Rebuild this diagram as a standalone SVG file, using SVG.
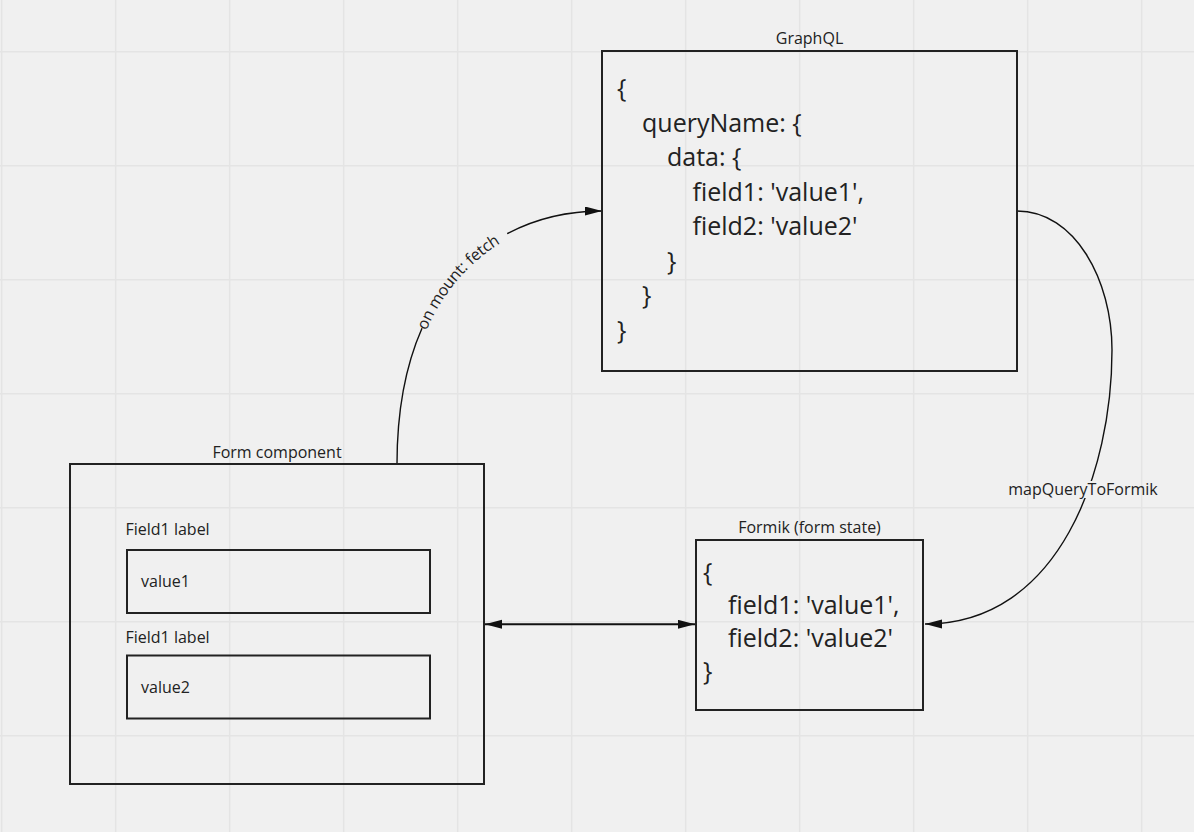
<svg xmlns="http://www.w3.org/2000/svg" width="1194" height="832" viewBox="0 0 1194 832">
<defs>
<style>
.grid{stroke:#e4e4e4;stroke-width:1.5;fill:none}
.box{fill:none;stroke:#222;stroke-width:2}
.lbl{font-family:"Open Sans","Liberation Sans",sans-serif;font-size:16px;fill:#222}
.code{font-family:"Open Sans","Liberation Sans",sans-serif;font-size:25px;fill:#222}
.curve{fill:none;stroke:#111;stroke-width:1.4}
.line{fill:none;stroke:#111;stroke-width:2}
</style>
<marker id="arr" markerUnits="userSpaceOnUse" markerWidth="18" markerHeight="10" refX="17" refY="4.5" orient="auto-start-reverse">
<path d="M0,0 L17,4.5 L0,9 Z" fill="#111"/>
</marker>
<path id="fetchCurve" d="M397,464 C397,280 500,211 602,211"/>
</defs>
<rect x="0" y="0" width="1194" height="832" fill="#f0f0f0"/>
<g id="grid" class="grid">
<path d="M1.7,0V832M115.7,0V832M229.7,0V832M343.7,0V832M457.7,0V832M571.7,0V832M685.7,0V832M799.7,0V832M913.7,0V832M1027.7,0V832M1141.7,0V832"/>
<path d="M0,51.7H1194M0,165.7H1194M0,279.7H1194M0,393.7H1194M0,507.7H1194M0,621.7H1194M0,735.7H1194"/>
</g>
<g id="connectors">
<path class="curve" d="M397,464 C397,408.8 406.27,363.95 422,328.21"/>
<path class="curve" d="M507.18,233.71 C536.62,218.07 569.36,211 602,211" marker-end="url(#arr)"/>
<text class="lbl" dy="5"><textPath href="#fetchCurve" startOffset="54%" text-anchor="middle">on mount: fetch</textPath></text>
<path class="curve" d="M1017,211 C1075,211 1112,280 1112,350 C1112,470 1060,624 925,624" marker-end="url(#arr)"/>
<rect x="1072" y="481" width="24" height="17" fill="#f0f0f0"/>
<text class="lbl" x="1083" y="495" text-anchor="middle">mapQueryToFormik</text>
<path class="line" d="M485,624.3 H695" marker-start="url(#arr)" marker-end="url(#arr)"/>
</g>
<g id="graphql">
<text class="lbl" x="809.5" y="44" text-anchor="middle">GraphQL</text>
<rect class="box" x="602" y="51" width="415" height="320"/>
<text class="code" x="617" y="97.2">{</text>
<text class="code" x="642" y="131.7">queryName: {</text>
<text class="code" x="667" y="166.2">data: {</text>
<text class="code" x="692.5" y="200.7">field1: 'value1',</text>
<text class="code" x="692.5" y="235.2">field2: 'value2'</text>
<text class="code" x="667" y="269.7">}</text>
<text class="code" x="642" y="304.2">}</text>
<text class="code" x="617" y="338.7">}</text>
</g>
<g id="formik">
<text class="lbl" x="809.5" y="532.7" text-anchor="middle">Formik (form state)</text>
<rect class="box" x="696" y="540" width="227" height="170"/>
<text class="code" x="703" y="581">{</text>
<text class="code" x="728" y="614">field1: 'value1',</text>
<text class="code" x="728" y="647">field2: 'value2'</text>
<text class="code" x="703" y="680">}</text>
</g>
<g id="form-component">
<text class="lbl" x="277" y="458.3" text-anchor="middle">Form component</text>
<rect class="box" x="70" y="464" width="414" height="320"/>
</g>
<g id="field1">
<text class="lbl" x="125.5" y="535">Field1 label</text>
<rect class="box" x="127" y="550" width="303" height="63"/>
<text class="lbl" x="141" y="586.7">value1</text>
</g>
<g id="field2">
<text class="lbl" x="125.5" y="642.7">Field1 label</text>
<rect class="box" x="127" y="655.5" width="303" height="63"/>
<text class="lbl" x="141" y="692.7">value2</text>
</g>
</svg>
